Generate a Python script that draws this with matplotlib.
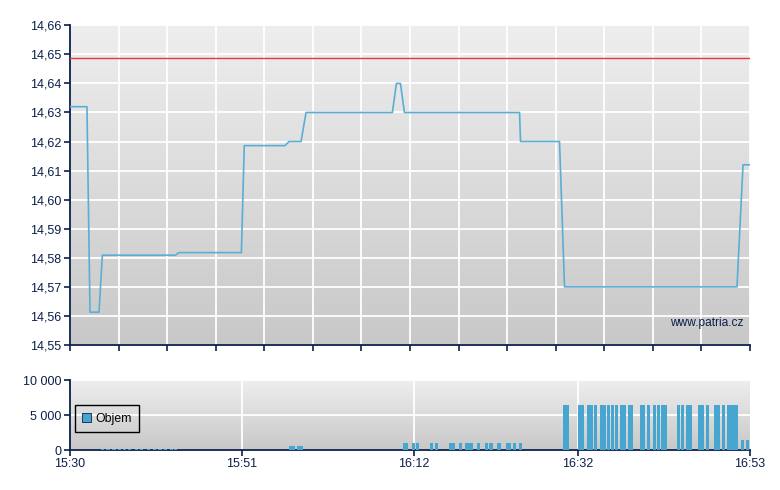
import numpy as np
import matplotlib
matplotlib.use("Agg")
import matplotlib.pyplot as plt
from matplotlib.colors import LinearSegmentedColormap
from matplotlib.patches import Patch

plt.rcParams['font.family'] = ['Liberation Sans', 'DejaVu Sans']

# ---- data (time in minutes after 15:30) ----
price_t = [0, 2.07, 2.44, 3.54, 3.95, 12.87, 13.30, 20.92, 21.27, 26.24, 26.73,
           28.20, 28.81, 39.35, 39.84, 40.33, 40.82, 54.87, 54.99, 59.75, 60.36,
           81.41, 82.15, 83.0]
price_v = [14.632, 14.632, 14.5613, 14.5613, 14.5809, 14.5809, 14.5818, 14.5818,
           14.6186, 14.6186, 14.620, 14.620, 14.630, 14.630, 14.640, 14.640,
           14.630, 14.630, 14.620, 14.620, 14.570, 14.570, 14.612, 14.612]
ref_price = 14.6486

vol_start = [3.78, 4.39, 5.13, 5.86, 6.47, 7.08, 7.93, 8.54, 9.40, 10.13, 10.74,
             11.47, 12.21, 12.69,
             26.73, 27.71,
             40.65, 41.75, 42.23, 43.94, 44.55, 46.26, 47.48, 48.21, 49.68, 50.65,
             51.14, 52.12, 53.22, 54.07, 54.80,
             60.18, 62.01, 63.11, 63.96, 64.69, 65.55, 66.04, 66.52, 67.13, 68.11,
             69.57, 70.43, 71.16, 71.65, 72.14, 74.09, 74.58, 75.19, 76.66, 77.63,
             78.61, 79.58, 80.19, 81.90, 82.51]
vol_end = [4.15, 4.88, 5.61, 6.22, 6.84, 7.45, 8.30, 8.91, 9.76, 10.50, 11.23,
           11.84, 12.57, 13.06,
           27.46, 28.44,
           41.26, 42.11, 42.60, 44.31, 44.92, 46.99, 47.85, 49.19, 50.05, 51.02,
           51.63, 52.61, 53.83, 54.44, 55.17,
           60.91, 62.74, 63.84, 64.33, 65.43, 65.91, 66.40, 66.89, 67.87, 68.72,
           70.18, 70.80, 71.53, 72.02, 72.87, 74.46, 74.94, 75.92, 77.39, 78.00,
           79.34, 79.95, 81.53, 82.27, 82.88]
vol_v = [200] * 14 + [600, 600] + [1000] * 15 + [6500] * 23 + [1450, 1450]

price_ticks = [14.55, 14.56, 14.57, 14.58, 14.59, 14.60, 14.61, 14.62, 14.63,
               14.64, 14.65, 14.66]
vol_ticks = [0, 5000, 10000]
vol_tick_labels = ['0', '5 000', '10 000']
time_ticks = [0, 21, 42, 62, 83]
time_labels = ['15:30', '15:51', '16:12', '16:32', '16:53']
t_end = 83
watermark = 'www.patria.cz'
legend_label = 'Objem'

# ---- styling ----
navy = '#0b1f4b'
line_col = '#5aaed6'
bar_col = '#47a6cf'
grad = LinearSegmentedColormap.from_list('g', ['#c8c8c8', '#eeeeee'])

fig = plt.figure(figsize=(7.8, 4.9), dpi=100)
ax1 = fig.add_axes([70/780, 1-345/490, 680/780, (345-25.3)/490])
ax2 = fig.add_axes([70/780, 1-450/490, 680/780, 70/490])

def background(ax):
    g = np.linspace(0, 1, 256).reshape(-1, 1)
    ax.imshow(g, extent=[0, 1, 0, 1], transform=ax.transAxes, aspect='auto',
              cmap=grad, origin='lower', zorder=0, interpolation='bilinear')
    ax.set_axisbelow(True)
    for s in ['top', 'right']:
        ax.spines[s].set_visible(False)
    for s in ['left', 'bottom']:
        ax.spines[s].set_color(navy)
        ax.spines[s].set_linewidth(1.3)
    ax.tick_params(colors=navy, labelcolor=navy, labelsize=9, width=1.2,
                   length=4.5, direction='out', pad=1.5)

# top panel
background(ax1)
ax1.plot(price_t, price_v, color=line_col, lw=1.2, zorder=3)
ax1.axhline(ref_price, color='#e8393a', lw=1.0, zorder=3)
ax1.set_xlim(0, t_end)
ax1.set_ylim(price_ticks[0], price_ticks[-1])
ax1.set_yticks(price_ticks)
ax1.set_yticklabels([f'{v:.2f}'.replace('.', ',') for v in price_ticks])
ax1.set_xticks(np.linspace(0, t_end, 15))
ax1.set_xticklabels([])
ax1.grid(True, color='white', lw=1.3)
ax1.text(0.99, 0.068, watermark, transform=ax1.transAxes, ha='right',
         va='center', color=navy, fontsize=8.6, zorder=4)

# bottom panel
background(ax2)
starts = np.array(vol_start)
widths = np.array(vol_end) - starts
ax2.bar(starts, vol_v, width=widths, align='edge', color=bar_col, zorder=3,
        linewidth=0)
ax2.set_xlim(0, t_end)
ax2.set_ylim(0, 10000)
ax2.set_yticks(vol_ticks)
ax2.set_yticklabels(vol_tick_labels)
ax2.set_xticks(time_ticks)
ax2.set_xticklabels(time_labels)
ax2.grid(True, color='white', lw=1.3)
ax2.get_xgridlines()[0].set_visible(False)
ax2.get_xgridlines()[-1].set_visible(False)
leg = ax2.legend(handles=[Patch(facecolor=bar_col, edgecolor=navy, lw=0.6)],
                 labels=[legend_label], loc='lower left',
                 bbox_to_anchor=(0.007, 0.257), fancybox=False,
                 facecolor='none', edgecolor='black', fontsize=8.8,
                 handlelength=0.75, handleheight=0.75, handletextpad=0.35,
                 borderpad=0.6, borderaxespad=0)
leg.get_frame().set_linewidth(1.0)
leg.get_frame().set_alpha(None)
leg.set_zorder(5)

fig.savefig('out.png', dpi=100)
